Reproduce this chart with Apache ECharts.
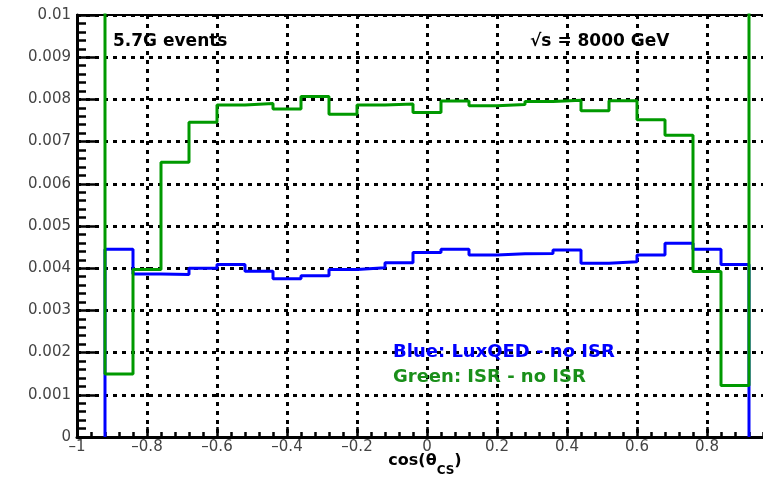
<!DOCTYPE html>
<html>
<head>
<meta charset="utf-8">
<script src="https://cdn.jsdelivr.net/npm/echarts@6/dist/echarts.min.js"></script>
<style>
  html, body { margin: 0; padding: 0; background: #fff; }
  #chart { width: 763px; height: 482px; }
</style>
</head>
<body>
<div id="chart"></div>
<script>
// Histogram binning in cos(theta_CS)
const binLo = -1;
const binHi = 1;
const nBins = 25;

// Bin contents, left to right (the outer bins of the ISR curve run off scale)
const blueLuxQED = [
  0, 0.00445, 0.00386, 0.00385, 0.00400, 0.00409, 0.00393, 0.00375, 0.00382,
  0.00397, 0.00401, 0.00413, 0.00437, 0.00445, 0.00431, 0.00434, 0.00435,
  0.00443, 0.00412, 0.00415, 0.00431, 0.00459, 0.00445, 0.00409, 0
];
const greenISR = [
  0.0125, 0.00149, 0.00397, 0.00651, 0.00746, 0.00787, 0.00790, 0.00777, 0.00807,
  0.00765, 0.00787, 0.00789, 0.00769, 0.00796, 0.00785, 0.00788, 0.00795,
  0.00798, 0.00773, 0.00797, 0.00752, 0.00715, 0.00392, 0.00122, 0.0125
];

// Tick labels
const xTickLabels = ['\u20131', '\u20130.8', '\u20130.6', '\u20130.4', '\u20130.2', '0', '0.2', '0.4', '0.6', '0.8', '1'];
const yTickLabels = ['0', '0.001', '0.002', '0.003', '0.004', '0.005', '0.006', '0.007', '0.008', '0.009', '0.01'];

// Turn bin contents into a histogram outline: two points per bin,
// with empty bins at either end left undrawn (they sit on the axis)
function outline(values) {
  const w = (binHi - binLo) / nBins;
  const pts = [];
  values.forEach((v, i) => {
    const lo = binLo + i * w;
    pts.push([lo, v], [lo + w, v]);
  });
  while (pts.length > 1 && pts[0][1] === 0 && pts[1][1] === 0) pts.shift();
  while (pts.length > 1 && pts[pts.length - 1][1] === 0 && pts[pts.length - 2][1] === 0) pts.pop();
  return pts;
}

const chart = echarts.init(document.getElementById('chart'), null, { renderer: 'canvas' });

const dotted = { color: '#000', width: 3, type: [4, 5] };
const labelFont = { fontFamily: 'DejaVu Sans', fontSize: 15, color: '#444' };

chart.setOption({
  backgroundColor: '#fff',
  animation: false,
  grid: {
    left: 77, top: 15, width: 700, height: 422,
    containLabel: false, outerBoundsMode: 'none',
    show: true, borderColor: '#000', borderWidth: 2, backgroundColor: 'transparent'
  },
  xAxis: {
    type: 'value', min: -1, max: 1, interval: 0.2,
    axisLine: { onZero: false, lineStyle: { color: '#000', width: 3 } },
    axisTick: { inside: true, length: 10, lineStyle: { color: '#000', width: 2.5 } },
    minorTick: { show: true, splitNumber: 5, length: 5, lineStyle: { color: '#000', width: 2.5 } },
    splitLine: { show: true, lineStyle: dotted },
    axisLabel: Object.assign({
      margin: 3,
      formatter: v => xTickLabels[Math.round((v - binLo) * 5)]
    }, labelFont)
  },
  yAxis: {
    type: 'value', min: 0, max: 0.01, interval: 0.001,
    axisLine: { show: true, onZero: false, lineStyle: { color: '#000', width: 3 } },
    axisTick: { inside: true, length: 18, lineStyle: { color: '#000', width: 2.5 } },
    minorTick: { show: true, splitNumber: 5, length: 9, lineStyle: { color: '#000', width: 2.5 } },
    splitLine: { show: true, lineStyle: dotted },
    axisLabel: Object.assign({
      margin: 6,
      formatter: v => yTickLabels[Math.round(v * 1000)]
    }, labelFont)
  },
  series: [
    {
      name: 'Blue: LuxQED - no ISR',
      type: 'line', data: outline(blueLuxQED), symbol: 'none', clip: true,
      lineStyle: { color: '#0000ff', width: 3 }, z: 3
    },
    {
      name: 'Green: ISR - no ISR',
      type: 'line', data: outline(greenISR), symbol: 'none', clip: true,
      lineStyle: { color: '#009900', width: 3 }, z: 4
    }
  ],
  graphic: [
    {
      type: 'text', x: 113, y: 42, z: 10,
      style: { text: '5.7G events', font: 'bold 17px "DejaVu Sans"', fill: '#000', verticalAlign: 'middle' }
    },
    {
      type: 'text', x: 530, y: 42, z: 10,
      style: { text: '\u221As = 8000 GeV', font: 'bold 17px "DejaVu Sans"', fill: '#000', verticalAlign: 'middle' }
    },
    {
      type: 'text', x: 393, y: 352, z: 10,
      style: { text: 'Blue: LuxQED - no ISR', font: 'bold 18px "DejaVu Sans"', fill: '#0000ff', verticalAlign: 'middle' }
    },
    {
      type: 'text', x: 393, y: 377, z: 10,
      style: { text: 'Green: ISR - no ISR', font: 'bold 18px "DejaVu Sans"', fill: '#1a8f1a', verticalAlign: 'middle' }
    },
    {
      type: 'text', x: 425, y: 453, z: 10,
      style: {
        text: '{a|cos(\u03B8}{s|CS}{a|)}',
        align: 'center', verticalAlign: 'top',
        rich: {
          a: { font: 'bold 16px "DejaVu Sans"', fill: '#000', lineHeight: 24, verticalAlign: 'top' },
          s: { font: 'bold 12px "DejaVu Sans"', fill: '#000', lineHeight: 14, verticalAlign: 'bottom' }
        }
      }
    }
  ]
});
</script>
</body>
</html>
